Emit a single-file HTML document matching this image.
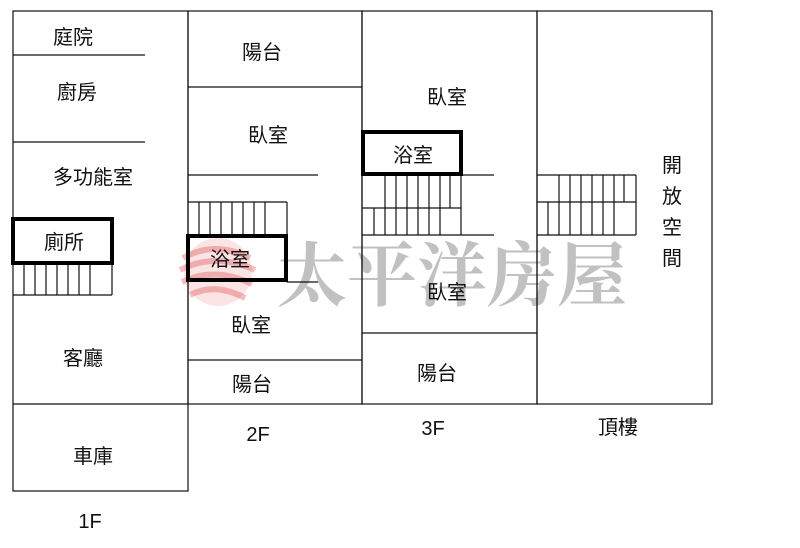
<!DOCTYPE html>
<html><head><meta charset="utf-8"><style>
html,body{margin:0;padding:0;background:#fff;width:800px;height:548px;overflow:hidden}
svg text{font-family:"Liberation Sans","Noto Sans CJK TC",sans-serif;fill:#111}
</style></head><body>
<svg width="800" height="548" viewBox="0 0 800 548" xmlns="http://www.w3.org/2000/svg">
<!-- watermark logo -->
<g opacity="0.35" fill="none" stroke="#e0484a" stroke-width="6">
<path d="M183 258 Q215 240 250 258"/>
<path d="M180 270 Q215 252 255 270"/>
<path d="M182 282 Q215 266 252 284"/>
<path d="M190 295 Q215 282 245 298"/>
</g>
<circle cx="218" cy="272" r="34" fill="#e0484a" opacity="0.15"/>
<text x="277" y="300" style="font-family:'Liberation Serif','Noto Serif CJK SC',serif;font-size:70px;font-weight:bold;fill:#999;opacity:0.6">太平洋房屋</text>

<g stroke="#111" stroke-width="1.2" fill="none">
<!-- outer frames -->
<rect x="13" y="11" width="175" height="480"/>
<rect x="188" y="11" width="174" height="393"/>
<rect x="362" y="11" width="175" height="393"/>
<rect x="537" y="11" width="175" height="393"/>
<line x1="13" y1="404" x2="188" y2="404"/>
<!-- 1F -->
<line x1="13" y1="55" x2="145" y2="55"/>
<line x1="13" y1="142" x2="145" y2="142"/>
<line x1="13" y1="295" x2="112" y2="295"/>
<line x1="24" y1="263" x2="24" y2="295"/><line x1="35" y1="263" x2="35" y2="295"/>
<line x1="46" y1="263" x2="46" y2="295"/><line x1="57" y1="263" x2="57" y2="295"/>
<line x1="68" y1="263" x2="68" y2="295"/><line x1="79" y1="263" x2="79" y2="295"/>
<line x1="90" y1="263" x2="90" y2="295"/><line x1="112" y1="263" x2="112" y2="295"/>
<!-- 2F -->
<line x1="188" y1="87" x2="362" y2="87"/>
<line x1="188" y1="175" x2="318" y2="175"/>
<line x1="188" y1="202" x2="287" y2="202"/>
<line x1="199" y1="202" x2="199" y2="235"/><line x1="210" y1="202" x2="210" y2="235"/>
<line x1="221" y1="202" x2="221" y2="235"/><line x1="232" y1="202" x2="232" y2="235"/>
<line x1="243" y1="202" x2="243" y2="235"/><line x1="254" y1="202" x2="254" y2="235"/>
<line x1="265" y1="202" x2="265" y2="235"/><line x1="287" y1="202" x2="287" y2="235"/>
<line x1="287" y1="282" x2="318" y2="282"/>
<line x1="188" y1="360" x2="362" y2="360"/>
<!-- 3F -->
<line x1="362" y1="175" x2="494" y2="175"/>
<line x1="362" y1="208" x2="461" y2="208"/>
<line x1="362" y1="235" x2="494" y2="235"/>
<line x1="385" y1="175" x2="385" y2="208"/><line x1="396" y1="175" x2="396" y2="208"/>
<line x1="407" y1="175" x2="407" y2="208"/><line x1="418" y1="175" x2="418" y2="208"/>
<line x1="429" y1="175" x2="429" y2="208"/><line x1="440" y1="175" x2="440" y2="208"/>
<line x1="450" y1="175" x2="450" y2="208"/><line x1="461" y1="175" x2="461" y2="235"/>
<line x1="374" y1="208" x2="374" y2="235"/><line x1="385" y1="208" x2="385" y2="235"/>
<line x1="396" y1="208" x2="396" y2="235"/><line x1="407" y1="208" x2="407" y2="235"/>
<line x1="418" y1="208" x2="418" y2="235"/><line x1="429" y1="208" x2="429" y2="235"/>
<line x1="440" y1="208" x2="440" y2="235"/>
<line x1="362" y1="333" x2="537" y2="333"/>
<!-- roof stairs -->
<line x1="537" y1="175" x2="636" y2="175"/>
<line x1="537" y1="202" x2="636" y2="202"/>
<line x1="537" y1="235" x2="636" y2="235"/>
<line x1="559" y1="175" x2="559" y2="202"/><line x1="570" y1="175" x2="570" y2="202"/>
<line x1="581" y1="175" x2="581" y2="202"/><line x1="592" y1="175" x2="592" y2="202"/>
<line x1="603" y1="175" x2="603" y2="202"/><line x1="614" y1="175" x2="614" y2="202"/>
<line x1="624" y1="175" x2="624" y2="202"/><line x1="636" y1="175" x2="636" y2="235"/>
<line x1="548" y1="202" x2="548" y2="235"/><line x1="559" y1="202" x2="559" y2="235"/>
<line x1="570" y1="202" x2="570" y2="235"/><line x1="581" y1="202" x2="581" y2="235"/>
<line x1="592" y1="202" x2="592" y2="235"/><line x1="603" y1="202" x2="603" y2="235"/>
<line x1="614" y1="202" x2="614" y2="235"/>
</g>
<!-- thick boxes -->
<g stroke="#000" stroke-width="4" fill="none">
<rect x="13" y="219" width="99" height="44"/>
<rect x="188" y="236" width="98" height="44"/>
<rect x="363" y="132" width="98" height="42"/>
</g>
<g font-size="20" text-anchor="middle">
<text x="73" y="44">庭院</text>
<text x="77" y="99">廚房</text>
<text x="93" y="184">多功能室</text>
<text x="64" y="249">廁所</text>
<text x="83" y="365">客廳</text>
<text x="93" y="463">車庫</text>
<text x="90" y="528">1F</text>
<text x="262" y="59">陽台</text>
<text x="268" y="142">臥室</text>
<text x="230" y="266">浴室</text>
<text x="251" y="332">臥室</text>
<text x="252" y="391">陽台</text>
<text x="258" y="441">2F</text>
<text x="447" y="104">臥室</text>
<text x="413" y="162">浴室</text>
<text x="447" y="299">臥室</text>
<text x="437" y="380">陽台</text>
<text x="433" y="435">3F</text>
<text x="618" y="434">頂樓</text>
<text x="672" y="172">開</text>
<text x="672" y="203">放</text>
<text x="672" y="234">空</text>
<text x="672" y="265">間</text>
</g>
</svg>
</body></html>
